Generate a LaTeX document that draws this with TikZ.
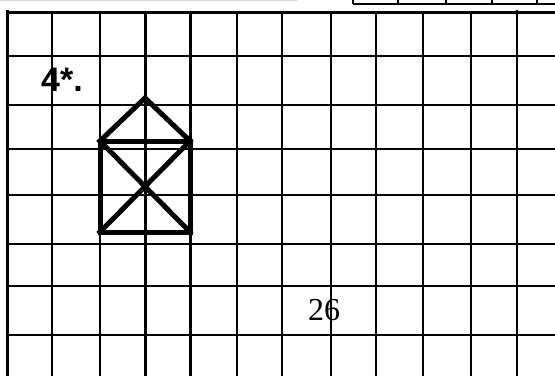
\documentclass[tikz,border=0pt]{standalone}
\usepackage{fontspec}
\setmainfont{Liberation Serif}
\newfontfamily\arialfont{Liberation Sans}
\begin{document}
\begin{tikzpicture}[x=1pt,y=-1pt,
  gridline/.style={line width=2.1pt,black},
  houseline/.style={line width=5pt,black,line join=miter,line cap=rect}]
\useasboundingbox[fill=white] (0,0) rectangle (555,376);
% faint rule at the top
\draw[gray!30,line width=1pt] (0,0.5) -- (297,0.5);
% bottom of a table cut by the top edge
\draw[line width=2.1pt] (353,4) -- (555,4);
\foreach \x in {353,398,446,492,537} \draw[line width=2.1pt] (\x,0) -- (\x,4);
% grid
\foreach \y in {12.5,56,105,149,195,244,286,335}
  \draw[gridline] (7.5,\y) -- (555,\y);
\foreach \x in {7.5,517}
  \draw[gridline] (\x,10) -- (\x,376);
\foreach \x in {52,100,145.5,190.5,237,282,331,376,423,471}
  \draw[gridline] (\x,12.5) -- (\x,376);
% house
\coordinate (A) at (100,141);
\coordinate (B) at (190,141);
\coordinate (C) at (190,232);
\coordinate (D) at (100,232);
\coordinate (T) at (145,98);
\draw[houseline] (A) -- (B) -- (C) -- (D) -- cycle;
\draw[houseline] (A) -- (T) -- (B);
\draw[houseline] (A) -- (C) (B) -- (D);
% labels
\node[anchor=base west,inner sep=0pt,font=\arialfont\bfseries\fontsize{34}{34}\selectfont] (lbl) at (41,91) {4*.};
\node[anchor=base,inner sep=0pt,font=\fontsize{32}{32}\selectfont] (page) at (324,320) {26};
\end{tikzpicture}
\end{document}
